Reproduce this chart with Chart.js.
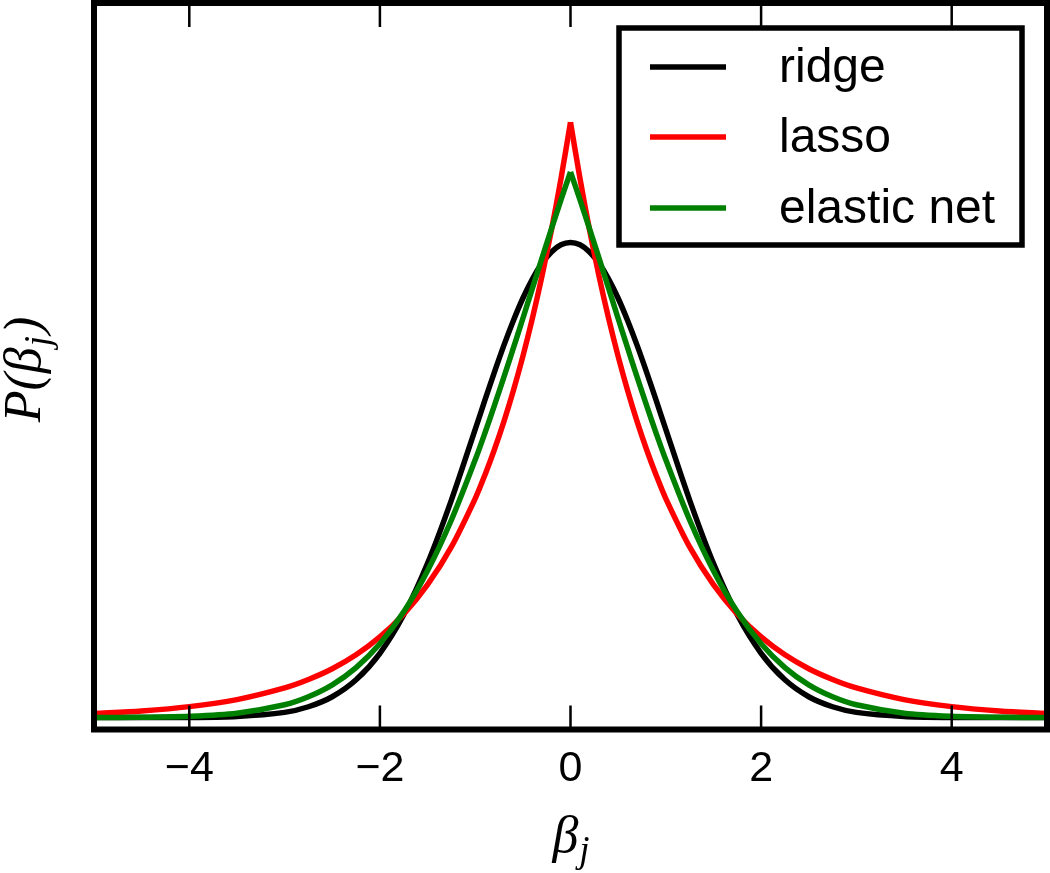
<!DOCTYPE html>
<html>
<head>
<meta charset="utf-8">
<script src="https://cdn.jsdelivr.net/npm/chart.js@4/dist/chart.umd.min.js"></script>
<style>
  html, body { margin: 0; padding: 0; background: #fff; }
  #wrap { width: 1050px; height: 873px; }
</style>
</head>
<body>
<div id="wrap"><canvas id="chart" width="1050" height="873"></canvas></div>
<script>
// values
var betas = [-5, -4.5, -4, -3.5, -3, -2.75, -2.5, -2.25, -2, -1.75, -1.5, -1.25,
             -1, -0.9, -0.8, -0.7, -0.6, -0.5, -0.4, -0.3, -0.2, -0.1,
             0, 0.1, 0.2, 0.3, 0.4, 0.5, 0.6, 0.7, 0.8, 0.9, 1,
             1.25, 1.5, 1.75, 2, 2.25, 2.5, 2.75, 3, 3.5, 4, 4.5, 5];

var ridge = [0.0000, 0.0000, 0.0001, 0.0009, 0.0044, 0.0091, 0.0175, 0.0317, 0.0540, 0.0863, 0.1295, 0.1826,
             0.2420, 0.2661, 0.2897, 0.3123, 0.3332, 0.3521, 0.3683, 0.3814, 0.3910, 0.3970,
             0.3989, 0.3970, 0.3910, 0.3814, 0.3683, 0.3521, 0.3332, 0.3123, 0.2897, 0.2661, 0.2420,
             0.1826, 0.1295, 0.0863, 0.0540, 0.0317, 0.0175, 0.0091, 0.0044, 0.0009, 0.0001, 0.0000, 0.0000];

var lasso = [0.0034, 0.0056, 0.0092, 0.0151, 0.0249, 0.0320, 0.0410, 0.0527, 0.0677, 0.0869, 0.1116, 0.1433,
             0.1839, 0.2033, 0.2247, 0.2483, 0.2744, 0.3033, 0.3352, 0.3704, 0.4094, 0.4524,
             0.5000, 0.4524, 0.4094, 0.3704, 0.3352, 0.3033, 0.2744, 0.2483, 0.2247, 0.2033, 0.1839,
             0.1433, 0.1116, 0.0869, 0.0677, 0.0527, 0.0410, 0.0320, 0.0249, 0.0151, 0.0092, 0.0056, 0.0034];

var elasticNet = [0.0001, 0.0003, 0.0011, 0.0037, 0.0108, 0.0175, 0.0275, 0.0420, 0.0620, 0.0888, 0.1233, 0.1659,
                  0.2164, 0.2385, 0.2617, 0.2856, 0.3102, 0.3351, 0.3604, 0.3856, 0.4104, 0.4347,
                  0.4581, 0.4347, 0.4104, 0.3856, 0.3604, 0.3351, 0.3102, 0.2856, 0.2617, 0.2385, 0.2164,
                  0.1659, 0.1233, 0.0888, 0.0620, 0.0420, 0.0275, 0.0175, 0.0108, 0.0037, 0.0011, 0.0003, 0.0001];

var seriesNames = ['ridge', 'lasso', 'elastic net'];
var seriesColors = ['#000000', '#ff0000', '#008000'];
var xTicks = [-4, -2, 0, 2, 4];

var peak = betas.indexOf(0);

function pts(ys, from, to) {
  var out = [];
  for (var i = from; i <= to; i++) out.push({ x: betas[i], y: ys[i] });
  return out;
}

// lasso and elastic net have a cusp at 0: draw each side as its own smooth piece
function halves(name, ys, color, order) {
  return [
    { label: name, data: pts(ys, 0, peak), borderColor: color, order: order },
    { label: name, data: pts(ys, peak, ys.length - 1), borderColor: color, order: order }
  ];
}

// frame, inward ticks, legend box and math axis labels
var decor = {
  id: 'decor',
  afterDraw: function(chart) {
    var ctx = chart.ctx, a = chart.chartArea, sx = chart.scales.x;
    ctx.save();
    ctx.strokeStyle = '#000';

    // ticks on bottom and top, pointing inward
    ctx.lineWidth = 2.5;
    xTicks.forEach(function(v) {
      var px = sx.getPixelForValue(v);
      ctx.beginPath();
      ctx.moveTo(px, a.bottom); ctx.lineTo(px, a.bottom - 24);
      ctx.moveTo(px, a.top); ctx.lineTo(px, a.top + 24);
      ctx.stroke();
    });

    // frame
    ctx.lineWidth = 6;
    ctx.strokeRect(a.left, a.top, a.right - a.left, a.bottom - a.top);

    // legend
    ctx.fillStyle = '#fff';
    ctx.fillRect(619, 28, 403, 217);
    ctx.lineWidth = 5.5;
    ctx.strokeRect(619, 28, 403, 217);
    var rows = [67, 137, 208];
    ctx.font = '48px "Liberation Sans", Arial, sans-serif';
    ctx.textBaseline = 'middle';
    ctx.textAlign = 'left';
    seriesNames.forEach(function(name, i) {
      ctx.strokeStyle = seriesColors[i];
      ctx.lineWidth = 5.5;
      ctx.beginPath();
      ctx.moveTo(650, rows[i]); ctx.lineTo(726, rows[i]);
      ctx.stroke();
      ctx.fillStyle = '#000';
      ctx.fillText(name, 779, rows[i] + 2);
    });

    // x axis label: beta_j
    ctx.fillStyle = '#000';
    ctx.textBaseline = 'alphabetic';
    var big = 'italic 52px "Liberation Serif", "DejaVu Serif", serif';
    var small = 'italic 37px "Liberation Serif", "DejaVu Serif", serif';
    ctx.font = big;
    var wb = ctx.measureText('\u03B2').width;
    ctx.font = small;
    var wj = ctx.measureText('j').width;
    var x0 = (a.left + a.right) / 2 - (wb + wj) / 2;
    ctx.font = big;
    ctx.fillText('\u03B2', x0, 852);
    ctx.font = small;
    ctx.fillText('j', x0 + wb + 1, 862);

    // y axis label: P(beta_j)
    ctx.translate(40, 371);
    ctx.rotate(-Math.PI / 2);
    ctx.font = big;
    var w1 = ctx.measureText('P(\u03B2').width;
    var w3 = ctx.measureText(')').width;
    ctx.font = small;
    var w2 = ctx.measureText('j').width;
    var start = -(w1 + w2 + w3) / 2;
    ctx.font = big;
    ctx.fillText('P(\u03B2', start, 0);
    ctx.font = small;
    ctx.fillText('j', start + w1 + 1, 10);
    ctx.font = big;
    ctx.fillText(')', start + w1 + w2 + 3, 0);

    ctx.restore();
  }
};

var datasets = [{ label: seriesNames[0], data: pts(ridge, 0, ridge.length - 1), borderColor: seriesColors[0], order: 2 }]
  .concat(halves(seriesNames[1], lasso, seriesColors[1], 1))
  .concat(halves(seriesNames[2], elasticNet, seriesColors[2], 0));

new Chart(document.getElementById('chart'), {
  type: 'line',
  data: { datasets: datasets },
  options: {
    responsive: false,
    animation: false,
    events: [],
    layout: { padding: { top: 3, right: 3, left: 0, bottom: 0 } },
    elements: {
      line: { borderWidth: 5.5, tension: 0.3, fill: false, borderJoinStyle: 'round' },
      point: { radius: 0 }
    },
    plugins: {
      legend: { display: false },
      tooltip: { enabled: false }
    },
    scales: {
      x: {
        type: 'linear',
        min: -5,
        max: 5,
        grid: { display: false },
        border: { display: false },
        afterBuildTicks: function(s) { s.ticks = xTicks.map(function(v) { return { value: v }; }); },
        afterFit: function(s) { s.height = 143.5; },
        ticks: {
          color: '#000',
          padding: 6,
          font: { family: '"Liberation Sans", Arial, sans-serif', size: 43 },
          callback: function(v) { return v < 0 ? '\u2212' + Math.abs(v) : String(v); }
        }
      },
      y: {
        min: -0.01,
        max: 0.6,
        grid: { display: false },
        border: { display: false },
        ticks: { display: false },
        afterFit: function(s) { s.width = 94; }
      }
    }
  },
  plugins: [decor]
});
</script>
</body>
</html>
